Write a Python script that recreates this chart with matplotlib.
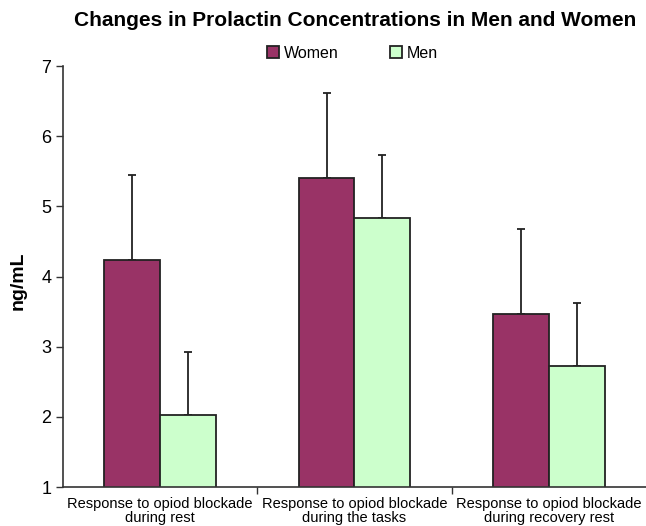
import numpy as np
import matplotlib
matplotlib.use("Agg")
import matplotlib.pyplot as plt

plt.rcParams['font.family'] = ['Liberation Sans', 'DejaVu Sans']

categories = ["Response to opiod blockade\nduring rest",
              "Response to opiod blockade\nduring the tasks",
              "Response to opiod blockade\nduring recovery rest"]
women = [4.24, 5.41, 3.47]
women_err = [1.20, 1.20, 1.21]
men = [2.02, 4.83, 2.73]
men_err = [0.91, 0.90, 0.89]

fig = plt.figure(figsize=(6.46, 5.26), dpi=100)
ax = fig.add_axes([0.0975, 0.0741, 0.9025, 0.8004])

x = np.arange(len(categories))
w = 0.288
ax.bar(x - w / 2, women, w, bottom=0, color='#993366', edgecolor='#222222',
       linewidth=1.3, label='Women', zorder=2)
ax.bar(x + w / 2, men, w, bottom=0, color='#CCFFCC', edgecolor='#222222',
       linewidth=1.3, label='Men', zorder=2)
ax.errorbar(x - w / 2, women, yerr=[np.zeros(3), women_err], fmt='none',
            ecolor='#222222', elinewidth=1.3, capsize=3, capthick=1.3, zorder=1)
ax.errorbar(x + w / 2, men, yerr=[np.zeros(3), men_err], fmt='none',
            ecolor='#222222', elinewidth=1.3, capsize=3, capthick=1.3, zorder=1)

ax.set_ylim(1, 7)
ax.set_xlim(-0.5, 2.5)
ax.set_yticks(range(1, 8))
ax.tick_params(axis='y', labelsize=13, length=5, width=1, color='#333333')
ax.set_xticks(x)
ax.set_xticklabels(categories, fontsize=10.5, linespacing=1.0)
ax.tick_params(axis='x', length=0, pad=7)
ax.set_xticks([0.5, 1.5], minor=True)
ax.tick_params(axis='x', which='minor', length=5, width=1, color='#333333')
for s in ['top', 'right']:
    ax.spines[s].set_visible(False)
for s in ['left', 'bottom']:
    ax.spines[s].set_color('#333333')
    ax.spines[s].set_linewidth(1.2)

ax.set_ylabel('ng/mL', fontsize=14, fontweight='bold')
ax.yaxis.set_label_coords(-0.062, 0.49)

fig.text(0.549, 0.961, 'Changes in Prolactin Concentrations in Men and Women',
         ha='center', va='center', fontsize=15, fontweight='bold')
fig.legend(loc='center', bbox_to_anchor=(0.546, 0.899), ncol=2, frameon=False,
           fontsize=11.5, handlelength=0.75, handleheight=0.75, columnspacing=3.2,
           handletextpad=0.3)

fig.savefig('out.png', dpi=100)
